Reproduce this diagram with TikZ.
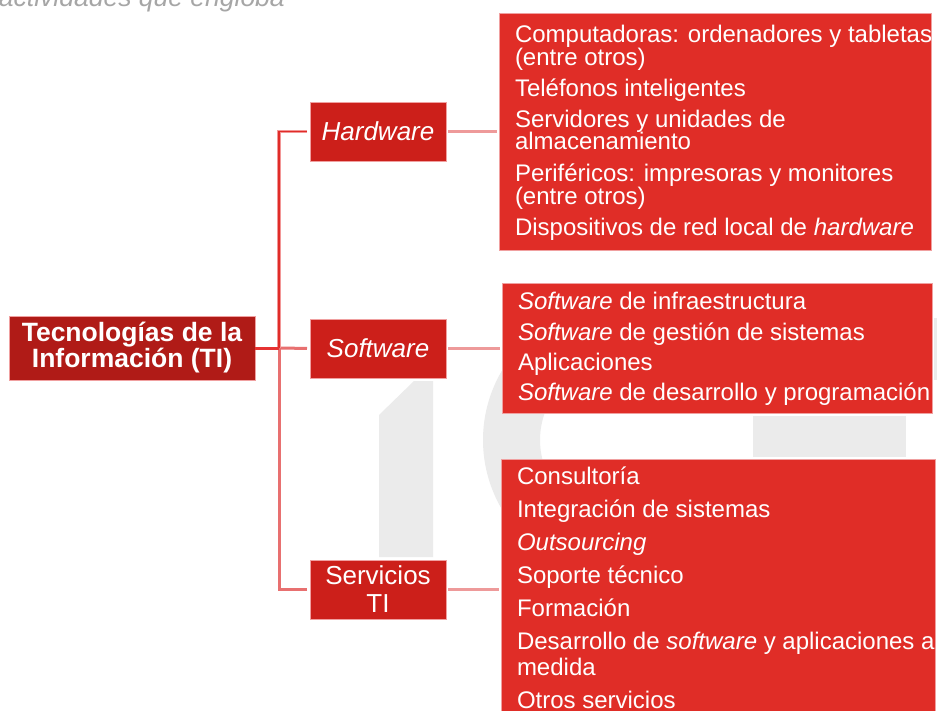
\documentclass[tikz,border=0pt]{standalone}
\usepackage{fontspec}
\setmainfont{Liberation Sans}
\usetikzlibrary{calc}
\definecolor{rootred}{RGB}{176,27,23}
\definecolor{catred}{RGB}{204,31,26}
\definecolor{listred}{RGB}{224,45,39}
\definecolor{boxedge}{RGB}{240,160,160}
\definecolor{wmgray}{RGB}{235,235,235}
\definecolor{titlegray}{RGB}{166,166,166}
\definecolor{busred}{RGB}{224,44,40}
\definecolor{busglow}{RGB}{242,150,150}
\definecolor{buspink}{RGB}{232,112,112}
\definecolor{linkpink}{RGB}{238,154,154}
\definecolor{rootline}{RGB}{230,50,50}
\begin{document}
\begin{tikzpicture}[x=1pt,y=-1pt,
  rootbox/.style={fill=rootred, draw=boxedge, line width=0.6pt, text=white, align=center,
    inner sep=0pt, outer sep=0pt, minimum width=246pt, minimum height=64pt,
    font=\fontsize{26.5}{25}\selectfont\bfseries},
  catbox/.style={fill=catred, draw=boxedge, line width=0.6pt, text=white, align=center,
    inner sep=0pt, outer sep=0pt, minimum width=136pt, minimum height=59pt,
    font=\fontsize{26}{28}\selectfont},
  listbox/.style={fill=listred, draw=boxedge, line width=0.6pt, inner sep=0pt, outer sep=0pt, anchor=north west},
  item/.style={text=white, inner sep=0pt, outer sep=0pt, anchor=base west, font=\fontsize{24}{24}\selectfont},
  titletext/.style={text=titlegray, inner sep=0pt, anchor=base east, font=\fontsize{26.5}{26.5}\selectfont\itshape},
  wm/.style={fill=wmgray},
  upperbus/.style={draw=busred, line width=1.6pt, preaction={draw=busglow, line width=3.4pt}},
  lowerbus/.style={draw=buspink, line width=3pt},
  rootlink/.style={draw=rootline, line width=3pt},
  catlink/.style={draw=linkpink, line width=2.6pt, shorten <=2pt, shorten >=2pt}
]
\useasboundingbox (0,0) rectangle (937,711);
\clip (0,0) rectangle (937,711);
\fill[white] (0,0) rectangle (937,711);

% watermark
\fill[wm] (379,415) -- (414,381) -- (433,381) -- (433,557) -- (379,557) -- cycle;
\coordinate (cc) at (619,440);
\fill[wm] ($(cc)+(45:136)$) arc[start angle=45,end angle=315,radius=136]
  -- ($(cc)+(315:79)$) arc[start angle=315,end angle=45,radius=79] -- cycle;
\fill[wm] (753,416) rectangle (906,457);
\fill[wm] (934,318) rectangle (942,380);

% title fragment
\node[titletext] (title) at (285,7) {actividades que engloba};

% main boxes
\node[rootbox] (root) at (132,348) {Tecnologías de la\\Información (TI)};
\node[catbox] (hw) at (378,131.5) {\itshape Hardware};
\node[catbox] (sw) at (378,348.5) {\itshape Software};
\node[catbox] (sv) at (378,589.5) {Servicios\\TI};

% list boxes
\node[listbox, minimum width=432pt, minimum height=237pt] (hwl) at (499,13) {};
\node[listbox, minimum width=430pt, minimum height=130pt] (swl) at (502,283) {};
\node[listbox, minimum width=434pt, minimum height=270pt] (svl) at (501,459) {};

% hardware items
\node[item] (hw1a) at (515,42.7) {Computadoras: ordenadores y tabletas};
\node[item] (hw1b) at (515,66) {(entre otros)};
\node[item] (hw2) at (515,96.7) {Teléfonos inteligentes};
\node[item] (hw3a) at (515,127.3) {Servidores y unidades de};
\node[item] (hw3b) at (515,150) {almacenamiento};
\node[item] (hw4a) at (515,181.7) {Periféricos: impresoras y monitores};
\node[item] (hw4b) at (515,205) {(entre otros)};
\node[item] (hw5) at (515,236) {Dispositivos de red local de \textit{hardware}};

% software items
\node[item] (sw1) at (518,310) {\textit{Software} de infraestructura};
\node[item] (sw2) at (518,340) {\textit{Software} de gestión de sistemas};
\node[item] (sw3) at (518,370) {Aplicaciones};
\node[item] (sw4) at (518,400) {\textit{Software} de desarrollo y programación};

% services items
\node[item] (sv1) at (517,484.3) {Consultoría};
\node[item] (sv2) at (517,517.3) {Integración de sistemas};
\node[item] (sv3) at (517,550) {\textit{Outsourcing}};
\node[item] (sv4) at (517,583.3) {Soporte técnico};
\node[item] (sv5) at (517,616) {Formación};
\node[item] (sv6a) at (517,649.3) {Desarrollo de \textit{software} y aplicaciones a};
\node[item] (sv6b) at (517,675) {medida};
\node[item] (sv7) at (517,708.3) {Otros servicios};

% connectors
\coordinate (bus) at (279,348);
\draw[lowerbus, shorten <=3pt] (sv.west) -| (bus);
\draw[lowerbus, shorten <=3pt] (sw.west) -- (bus);
\draw[upperbus, shorten <=3pt] (hw.west) -| (bus);
\draw[rootlink] (root.east) -- (bus);
\draw[catlink] (hw.east) -- (hw.east -| hwl.west);
\draw[catlink] (sw.east) -- (sw.east -| swl.west);
\draw[catlink] (sv.east) -- (sv.east -| svl.west);
\end{tikzpicture}
\end{document}
